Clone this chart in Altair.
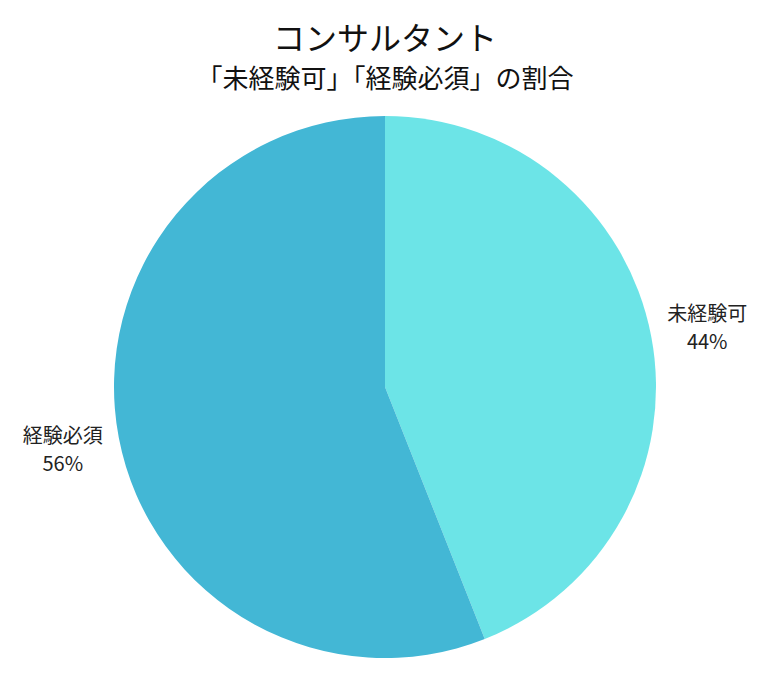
import altair as alt
import pandas as pd

categories = ["未経験可", "経験必須"]
values = [44, 56]
colors = ["#6CE4E7", "#43B7D5"]

df = pd.DataFrame({
    "category": categories,
    "value": values,
    "order": list(range(len(categories))),
})
df["label"] = [f"{c}\n{v}%" for c, v in zip(categories, values)]

CX, CY = 377, 279

base = alt.Chart(df).encode(
    theta=alt.Theta("value:Q", stack=True),
    order=alt.Order("order:Q"),
)

pie = base.mark_arc(outerRadius=271, stroke=None).encode(
    color=alt.Color("category:N", scale=alt.Scale(domain=categories, range=colors), legend=None),
    x=alt.value(CX),
    y=alt.value(CY),
)

labels = base.mark_text(
    radius=328,
    fontSize=20,
    font="Noto Sans CJK JP",
    color="#222222",
    lineBreak="\n",
    lineHeight=28,
    align="center",
    baseline="middle",
    dy=-11,
).encode(
    text="label:N",
    x=alt.value(CX),
    y=alt.value(CY),
)

chart = (pie + labels).properties(
    width=754,
    height=560,
    title=alt.TitleParams(
        text="コンサルタント",
        subtitle="「未経験可」「経験必須」の割合",
        font="Noto Sans CJK JP",
        subtitleFont="Noto Sans CJK JP",
        fontSize=32,
        subtitleFontSize=26,
        fontWeight="normal",
        subtitleFontWeight="normal",
        color="#111111",
        subtitleColor="#111111",
        anchor="middle",
        offset=14,
        subtitlePadding=10,
    ),
    autosize=alt.AutoSizeParams(type="none"),
    padding={"top": 100, "left": 0, "right": 0, "bottom": 0},
).configure_view(stroke=None)

chart.save("out.html", embed_options={"renderer": "svg", "actions": False})
